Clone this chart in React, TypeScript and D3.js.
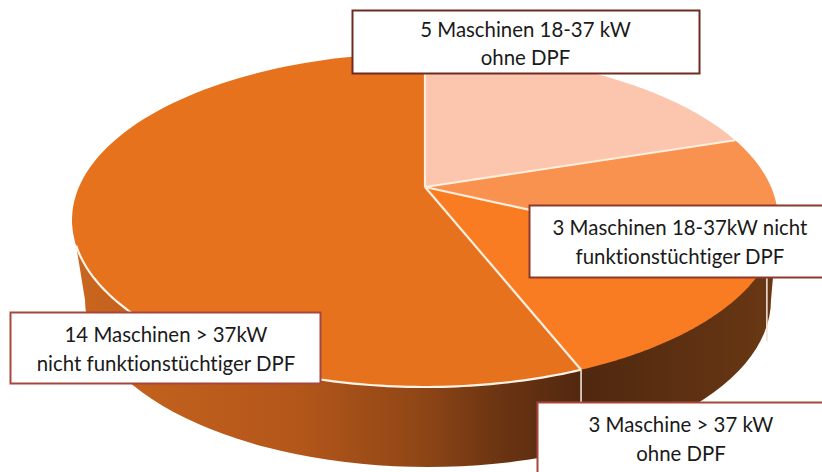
import React from "react";
import * as d3 from "d3";

const sliceNames = ["18-37 ohne", "18-37 defekt", ">37 ohne", ">37 defekt"];
const sliceValues = [5, 3, 3, 14];
const sliceColors = ["#fcc6ae", "#f9924e", "#f97c22", "#e6721e"];
const labelLines = [
  ["5 Maschinen 18-37 kW", "ohne DPF"],
  ["3 Maschinen 18-37kW nicht", "funktionstüchtiger DPF"],
  ["3 Maschine > 37 kW", "ohne DPF"],
  ["14 Maschinen > 37kW", "nicht funktionstüchtiger DPF"],
];

const W = 822, H = 472;
const top = { cx: 425, cy: 220, rx: 353, ry: 167 };
const bottom = { cx: 428, cy: 300, rx: 343, ry: 167 };
const apexY = 187;
const k = (apexY - top.cy) / top.ry;
const a = Math.sqrt(1 - k * k);

// perspective projection of a flat pie onto the tilted top face
function project(theta: number): [number, number] {
  const x = Math.sin(theta), y = -Math.cos(theta);
  const d = 1 + k * y;
  return [top.cx + (top.rx * a * x) / d, top.cy + (top.ry * (y + k)) / d];
}
const apex: [number, number] = [top.cx, apexY];

const arcPoints = (a0: number, a1: number) =>
  d3.range(0, 101).map((i) => project(a0 + ((a1 - a0) * i) / 100));

const line = d3.line<[number, number]>();
const arcs = d3.pie<number>().sort(null)(sliceValues);

const boxes = [
  { x: 352.5, y: 10.5, w: 347, h: 63, tx: 525.5, by: [37, 65], c: "#6f2b22" },
  { x: 529.5, y: 205.5, w: 300, h: 72, tx: 680, by: [235, 264], c: "#8c3a2c" },
  { x: 537.5, y: 402.5, w: 300, h: 80, tx: 681, by: [432, 461], c: "#a5473c" },
  { x: 10.5, y: 312.5, w: 310, h: 71, tx: 166, by: [342, 371], c: "#a5473c" },
];

export default function App() {
  const boundaries = arcs.map((s) => s.startAngle);
  const sideX = project(arcs[3].startAngle)[0];
  const stops: [number, string][] = [
    [72, "#c9661f"],
    [300, "#b3561a"],
    [420, "#8f4616"],
    [500, "#6b3412"],
    [sideX, "#522810"],
  ];
  const sidePath =
    `M${top.cx - top.rx},${top.cy} L${bottom.cx - bottom.rx},${bottom.cy} ` +
    `A${bottom.rx},${bottom.ry} 0 0 0 ${bottom.cx + bottom.rx},${bottom.cy} ` +
    `L${top.cx + top.rx},${top.cy} Z`;
  const pct = (x: number) => `${((x - 72) / (778 - 72)) * 100}%`;
  return (
    <svg
      width={W}
      height={H}
      style={{ position: "fixed", left: 0, top: 0, background: "#fff" }}
    >
      <defs>
        <linearGradient id="side" x1="0" x2="1" y1="0" y2="0" gradientUnits="objectBoundingBox">
          {stops.map(([x, c]) => (
            <stop key={x} offset={pct(x)} stopColor={c} />
          ))}
          <stop offset={pct(sideX)} stopColor="#4f280f" />
          <stop offset="100%" stopColor="#6a3814" />
        </linearGradient>
      </defs>
      <path d={sidePath} fill="url(#side)" />
      {arcs.map((s, i) => (
        <path
          key={sliceNames[i]}
          d={line([apex, ...arcPoints(s.startAngle, s.endAngle)]) + "Z"}
          fill={sliceColors[i]}
        />
      ))}
      <path
        d={line(arcPoints(arcs[3].startAngle, arcs[3].startAngle + 1.6)) ?? ""}
        fill="none"
        stroke="#fdf3e6"
        strokeWidth={2.2}
      />
      {boundaries.slice(1).map((b) => {
        const p = project(b);
        return (
          <g key={b}>
            <path d={line([apex, p]) ?? ""} stroke="#fdeede" strokeWidth={2.2} fill="none" />
            {p[1] > top.cy && (
              <path
                d={`M${p[0]},${p[1]} V${p[1] + 80}`}
                stroke="#efe3d6"
                strokeWidth={1.6}
                fill="none"
              />
            )}
          </g>
        );
      })}
      <path d={line([apex, project(0)]) ?? ""} stroke="#fdeede" strokeWidth={2.2} fill="none" />
      {boxes.map((b, i) => (
        <g key={i}>
          <rect x={b.x} y={b.y} width={b.w} height={b.h} fill="#fff" stroke={b.c} strokeWidth={2} />
          {labelLines[i].map((t, j) => (
            <text
              key={t}
              x={b.tx}
              y={b.by[j]}
              textAnchor="middle"
              fontFamily="Lato, 'Open Sans', sans-serif"
              fontSize={20.4}
              fill="#1a1a1a"
              style={{ fontVariantLigatures: "none" }}
            >
              {t}
            </text>
          ))}
        </g>
      ))}
    </svg>
  );
}
